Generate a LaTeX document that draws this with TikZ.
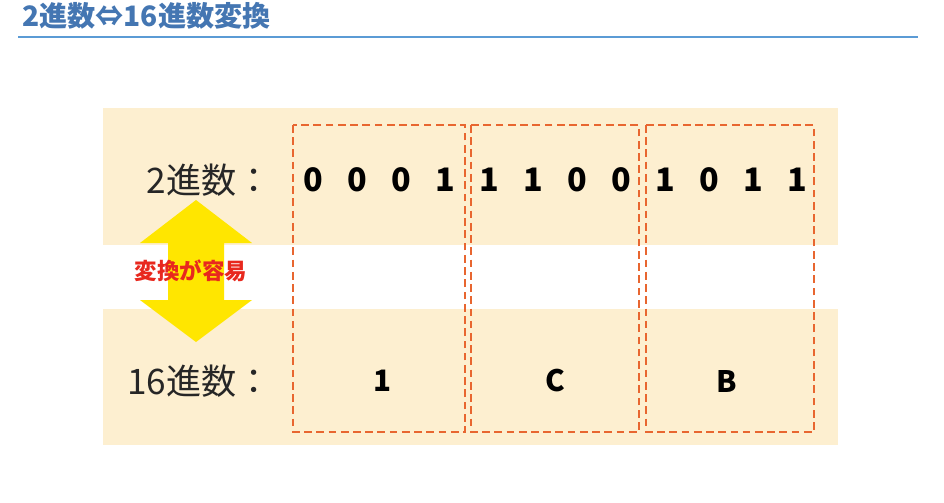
\documentclass[tikz,border=0pt]{standalone}
\usepackage{fontspec}
\setmainfont{Noto Sans CJK JP}
\definecolor{titleblue}{RGB}{68,118,178}
\definecolor{ruleblue}{RGB}{91,155,213}
\definecolor{beige}{RGB}{253,239,208}
\definecolor{dashorange}{RGB}{232,102,48}
\definecolor{arrowyellow}{RGB}{255,230,0}
\definecolor{easyred}{RGB}{232,40,30}

\begin{document}
\begin{tikzpicture}[x=0.025cm, y=-0.025cm,
  band/.style={fill=beige},
  group/.style={draw=dashorange, line width=1.9pt, dash pattern=on 5.5pt off 3.2pt},
  bit/.style={font=\fontsize{23}{23}\selectfont\bfseries, inner sep=0},
  hex/.style={font=\fontsize{21}{21}\selectfont\bfseries, inner sep=0},
  rowlabel/.style={font=\fontsize{25}{25}\selectfont, anchor=east, inner sep=0, text=black!85}]
\useasboundingbox[fill=white] (0,0) rectangle (944,502);

% title
\node[anchor=west, inner sep=0, text=titleblue, font=\fontsize{20}{20}\selectfont\bfseries] (title) at (22,16) {2進数⇔16進数変換};
\draw[ruleblue, line width=2pt] (18,37) -- (918,37);

% bands
\fill[band] (103,108) rectangle (838,245);
\fill[band] (103,309) rectangle (838,445);

% groups of 4 bits
\draw[group] (293,125) rectangle (465,432);
\draw[group] (471,125) rectangle (639,432);
\draw[group] (646,125) rectangle (814,432);

% row labels
\node[rowlabel] (bin) at (272,180) {2進数：};
\node[rowlabel] (hexrow) at (272,381) {16進数：};

% bits
\node[bit] (b11) at (313,180) {0};
\node[bit] (b10) at (357,180) {0};
\node[bit] (b9) at (401,180) {0};
\node[bit] (b8) at (445,180) {1};
\node[bit] (b7) at (489,180) {1};
\node[bit] (b6) at (533,180) {1};
\node[bit] (b5) at (577,180) {0};
\node[bit] (b4) at (621,180) {0};
\node[bit] (b3) at (665,180) {1};
\node[bit] (b2) at (709,180) {0};
\node[bit] (b1) at (753,180) {1};
\node[bit] (b0) at (797,180) {1};

% hex digits
\node[hex] (h2) at (382,381) {1};
\node[hex] (h1) at (555,381) {C};
\node[hex] (h0) at (727,381) {B};

% double arrow
\fill[arrowyellow] (196,200) -- (252,243) -- (224,243) -- (224,300) -- (252,300) -- (196,342)
  -- (140,300) -- (168,300) -- (168,243) -- (140,243) -- cycle;
\node[text=easyred, inner sep=0, font=\fontsize{16}{16}\selectfont\bfseries] (easy) at (191,271) {変換が容易};
\end{tikzpicture}
\end{document}
